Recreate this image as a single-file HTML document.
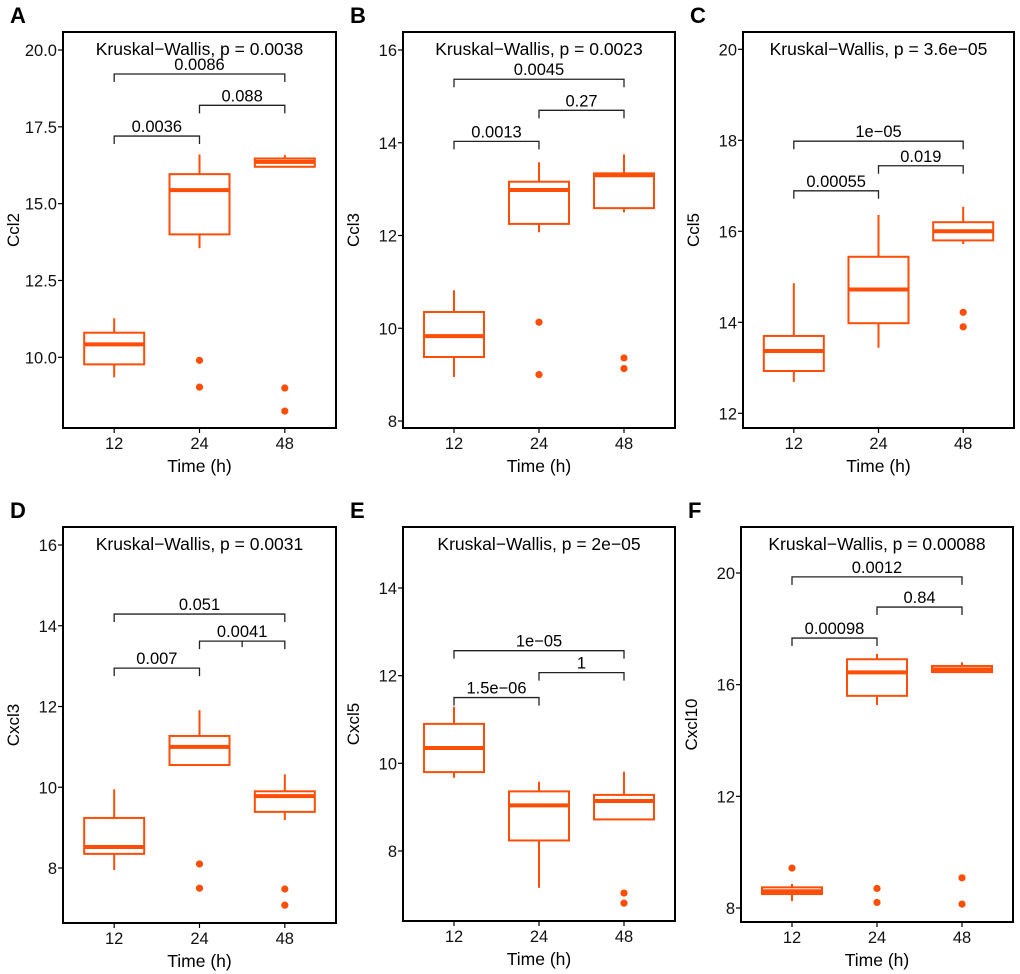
<!DOCTYPE html>
<html><head><meta charset="utf-8"><style>
html,body{margin:0;padding:0;background:#fff;}
svg{display:block;font-family:"Liberation Sans",Arial,sans-serif;}
</style></head><body>
<svg id="fig" width="1020" height="974" viewBox="0 0 1020 974" xmlns="http://www.w3.org/2000/svg"></svg>
<script>
// ---- data ----
const categories = ["12","24","48"];
// stats per group: [low whisker, q1, median, q3, high whisker]
const statsA = [[9.35,9.77,10.42,10.8,11.27],[13.55,14.0,15.44,15.96,16.6],[16.2,16.2,16.36,16.47,16.58]];
const outliersA = [[],[9.9,9.03],[9.0,8.25]];
const bracketA = [17.2,18.2,19.22];
const pvalsA = ["0.0036","0.088","0.0086"];
const ticksA = [10,12.5,15,17.5,20];
const tickLabelsA = ["10.0","12.5","15.0","17.5","20.0"];

const statsB = [[8.95,9.38,9.83,10.35,10.82],[12.07,12.25,12.98,13.16,13.58],[12.5,12.59,13.3,13.34,13.75]];
const outliersB = [[],[10.13,9.0],[9.36,9.13]];
const bracketB = [14.03,14.7,15.37];
const pvalsB = ["0.0013","0.27","0.0045"];
const ticksB = [8,10,12,14,16];

const statsC = [[12.69,12.93,13.37,13.7,14.86],[13.44,13.98,14.72,15.44,16.36],[15.72,15.8,16.0,16.2,16.54]];
const outliersC = [[],[],[14.22,13.9]];
const bracketC = [16.89,17.44,17.98];
const pvalsC = ["0.00055","0.019","1e\u221205"];
const ticksC = [12,14,16,18,20];

const statsD = [[7.95,8.35,8.52,9.24,9.95],[10.55,10.55,11.0,11.27,11.91],[9.19,9.39,9.78,9.9,10.32]];
const outliersD = [[],[8.1,7.5],[7.48,7.08]];
const bracketD = [12.95,13.62,14.29];
const pvalsD = ["0.007","0.0041","0.051"];
const ticksD = [8,10,12,14,16];

const statsE = [[9.67,9.8,10.35,10.9,11.29],[7.16,8.24,9.04,9.36,9.58],[8.72,8.72,9.14,9.28,9.81]];
const outliersE = [[],[],[7.04,6.81]];
const bracketE = [11.5,12.07,12.57];
const pvalsE = ["1.5e\u221206","1","1e\u221205"];
const ticksE = [8,10,12,14];

const statsF = [[8.25,8.5,8.6,8.74,8.86],[15.27,15.6,16.44,16.91,17.1],[16.45,16.45,16.55,16.67,16.8]];
const outliersF = [[9.43],[8.7,8.2],[9.08,8.14]];
const bracketF = [17.67,18.78,19.86];
const pvalsF = ["0.00098","0.84","0.0012"];
const ticksF = [8,12,16,20];

// ---- layout ----
const NS="http://www.w3.org/2000/svg";
const svg=document.getElementById('fig');
const ORANGE="#FC4E07";
function mk(tag,attrs,parent){const e=document.createElementNS(NS,tag);for(const k in attrs)e.setAttribute(k,attrs[k]);(parent||svg).appendChild(e);return e;}

const panels=[
 {id:"a",letter:"A",gene:"Ccl2",kw:"Kruskal\u2212Wallis, p = 0.0038",stats:statsA,out:outliersA,br:bracketA,pv:pvalsA,ticks:ticksA,tl:tickLabelsA,
  x0:63,x1:336,y0:32,y1:428,v0:10,p0:357.3,v1:20,p1:50},
 {id:"b",letter:"B",gene:"Ccl3",kw:"Kruskal\u2212Wallis, p = 0.0023",stats:statsB,out:outliersB,br:bracketB,pv:pvalsB,ticks:ticksB,
  x0:403,x1:675,y0:32,y1:428,v0:8,p0:421,v1:16,p1:50},
 {id:"c",letter:"C",gene:"Ccl5",kw:"Kruskal\u2212Wallis, p = 3.6e\u221205",stats:statsC,out:outliersC,br:bracketC,pv:pvalsC,ticks:ticksC,
  x0:743,x1:1014,y0:32,y1:428,v0:12,p0:413.3,v1:20,p1:49.3},
 {id:"d",letter:"D",gene:"Cxcl3",kw:"Kruskal\u2212Wallis, p = 0.0031",stats:statsD,out:outliersD,br:bracketD,pv:pvalsD,ticks:ticksD,
  x0:63,x1:336,y0:527,y1:923,v0:8,p0:868,v1:16,p1:545,midTick:true},
 {id:"e",letter:"E",gene:"Cxcl5",kw:"Kruskal\u2212Wallis, p = 2e\u221205",stats:statsE,out:outliersE,br:bracketE,pv:pvalsE,ticks:ticksE,
  x0:403,x1:675,y0:527,y1:921,v0:8,p0:851,v1:14,p1:588},
 {id:"f",letter:"F",gene:"Cxcl10",kw:"Kruskal\u2212Wallis, p = 0.00088",stats:statsF,out:outliersF,br:bracketF,pv:pvalsF,ticks:ticksF,
  x0:741,x1:1013,y0:527,y1:922,v0:8,p0:908,v1:20,p1:573}
];

panels.forEach(P=>{
  const g=mk('g',{});
  
  
  const y=v=>P.p0+(v-P.v0)*(P.p1-P.p0)/(P.v1-P.v0);
  const step=(P.x1-P.x0)/3.2;
  const x=i=>P.x0+step*(0.6+i);
  const hw=30;
  const L=mk('text',{x:P.x0-53,y:P.y0-9,'font-size':22,'font-weight':'bold',fill:'#000'},g);
  L.textContent=P.letter;
  
  
  const fr=mk('rect',{x:P.x0,y:P.y0,width:P.x1-P.x0,height:P.y1-P.y0,fill:'none',stroke:'#000','stroke-width':2},g);
  
  
  P.ticks.forEach((t,i)=>{
    const ty=y(t);
    mk('line',{x1:P.x0-5,x2:P.x0,y1:ty,y2:ty,stroke:'#000','stroke-width':1.2},g);
    const tx=mk('text',{x:P.x0-6,y:ty+6,'font-size':16.5,'text-anchor':'end',fill:'#111'},g);
    tx.textContent=P.tl?P.tl[i]:String(t);
    
    
  });
  const cy=(P.y0+P.y1)/2;
  const ax=P.x0-50;
  const yt=mk('text',{x:ax,y:cy,'font-size':17,'text-anchor':'middle',fill:'#000',transform:`rotate(-90 ${ax} ${cy})`},g);
  yt.textContent=P.gene;
  yt.setAttribute('dy','6');
  
  
  categories.forEach((c,i)=>{
    mk('line',{x1:x(i),x2:x(i),y1:P.y1,y2:P.y1+5,stroke:'#000','stroke-width':1.2},g);
    const tx=mk('text',{x:x(i),y:P.y1+21,'font-size':16.5,'text-anchor':'middle',fill:'#111'},g);
    tx.textContent=c;
    
    
  });
  const xt=mk('text',{x:x(1),y:P.y1+44,'font-size':17.5,'text-anchor':'middle',fill:'#000'},g);
  xt.textContent="Time (h)";
  
  
  const kw=mk('text',{x:x(1),y:P.y0+23,'font-size':17.5,'text-anchor':'middle',fill:'#000'},g);
  kw.textContent=P.kw;
  
  
  P.stats.forEach((s,i)=>{
    const bx=mk('g',{},g);
    
    
    const cx=x(i);
    mk('line',{x1:cx,x2:cx,y1:y(s[0]),y2:y(s[1]),stroke:ORANGE,'stroke-width':2},bx);
    mk('line',{x1:cx,x2:cx,y1:y(s[3]),y2:y(s[4]),stroke:ORANGE,'stroke-width':2},bx);
    mk('rect',{x:cx-hw,y:y(s[3]),width:hw*2,height:Math.max(0.5,y(s[1])-y(s[3])),fill:'#fff',stroke:ORANGE,'stroke-width':2},bx);
    mk('line',{x1:cx-hw,x2:cx+hw,y1:y(s[2]),y2:y(s[2]),stroke:ORANGE,'stroke-width':4},bx);
    P.out[i].forEach(o=>{
      const c=mk('circle',{cx:cx,cy:y(o),r:3.6,fill:ORANGE},bx);
      
      
    });
  });
  const pairs=[[0,1],[1,2],[0,2]];
  pairs.forEach((pr,k)=>{
    const by=y(P.br[k]);
    const xa=x(pr[0]),xb=x(pr[1]);
    const bg=mk('g',{},g);
    
    
    mk('polyline',{points:`${xa},${by+8} ${xa},${by} ${xb},${by} ${xb},${by+8}`,fill:'none',stroke:'#222','stroke-width':1.3},bg);
    if(P.midTick&&k===1) mk('line',{x1:(xa+xb)/2,x2:(xa+xb)/2,y1:by,y2:by+6,stroke:'#222','stroke-width':1.3},bg);
    const t=mk('text',{x:(xa+xb)/2,y:by-4,'font-size':16.5,'text-anchor':'middle',fill:'#000'},bg);
    t.textContent=P.pv[k];
  });
});
</script>
</body></html>
